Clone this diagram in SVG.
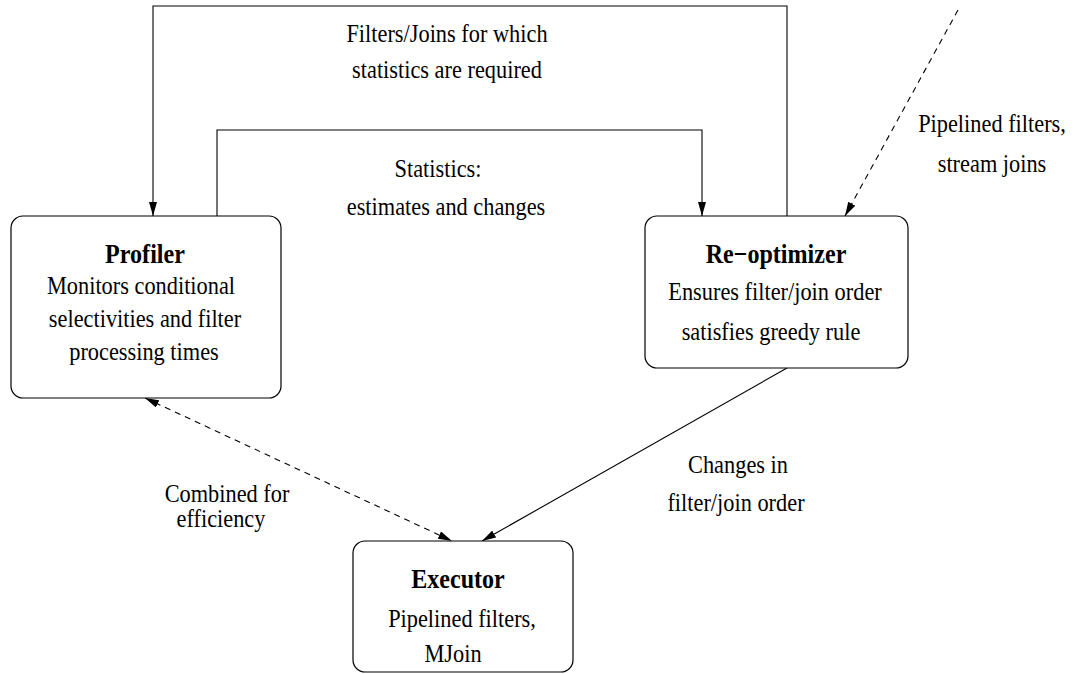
<svg xmlns="http://www.w3.org/2000/svg" width="1080" height="674" viewBox="0 0 1080 674">
  <style>
    .box { fill: #ffffff; stroke: #000000; stroke-width: 1.2; }
    .conn { fill: none; stroke: #000000; stroke-width: 1.1; }
    .dash { stroke-dasharray: 6 5; }
    text { font-family: "Liberation Serif", "Times New Roman", serif; font-size: 26px; fill: #000000; text-anchor: middle; }
    .title { font-size: 28px; font-weight: bold; }
  </style>
  <defs>
    <marker id="arrow" viewBox="0 0 14 8" refX="14" refY="4" markerWidth="14" markerHeight="8" markerUnits="userSpaceOnUse" orient="auto-start-reverse">
      <path d="M0,0 L14,4 L0,8 z" fill="#000000"/>
    </marker>
  </defs>
  <rect width="1080" height="674" fill="#ffffff"/>

  <!-- connectors -->
  <g id="connectors">
    <path class="conn" d="M787,216 V6 H153 V216" marker-end="url(#arrow)"/>
    <path class="conn" d="M217,216 V130 H702 V216" marker-end="url(#arrow)"/>
    <path class="conn dash" d="M958,10 L845,216" marker-end="url(#arrow)"/>
    <path class="conn dash" d="M145,398 L452,541" marker-start="url(#arrow)" marker-end="url(#arrow)"/>
    <path class="conn" d="M787,368 L482,541" marker-end="url(#arrow)"/>
  </g>

  <!-- connector labels -->
  <g id="labels">
    <text transform="translate(447,42) scale(0.86,1)">Filters/Joins for which</text>
    <text transform="translate(447,78) scale(0.86,1)">statistics are required</text>
    <text transform="translate(438,177) scale(0.86,1)">Statistics:</text>
    <text transform="translate(446,215) scale(0.86,1)">estimates and changes</text>
    <text transform="translate(992,132) scale(0.86,1)">Pipelined filters,</text>
    <text transform="translate(992,172) scale(0.86,1)">stream joins</text>
    <text transform="translate(738,473) scale(0.86,1)">Changes in</text>
    <text transform="translate(736,511) scale(0.86,1)">filter/join order</text>
    <text transform="translate(227,502) scale(0.86,1)">Combined for</text>
    <text transform="translate(221,527) scale(0.86,1)">efficiency</text>
  </g>

  <!-- Profiler -->
  <g id="profiler">
    <rect class="box" x="11" y="216" width="270" height="182" rx="12"/>
    <text class="title" transform="translate(145,263) scale(0.86,1)">Profiler</text>
    <text transform="translate(141,294) scale(0.86,1)">Monitors conditional</text>
    <text transform="translate(145,327) scale(0.86,1)">selectivities and filter</text>
    <text transform="translate(144,360) scale(0.86,1)">processing times</text>
  </g>

  <!-- Re-optimizer -->
  <g id="reoptimizer">
    <rect class="box" x="645" y="216" width="263" height="152" rx="12"/>
    <text class="title" transform="translate(776,263) scale(0.86,1)">Re−optimizer</text>
    <text transform="translate(775,300) scale(0.86,1)">Ensures filter/join order</text>
    <text transform="translate(771,340) scale(0.86,1)">satisfies greedy rule</text>
  </g>

  <!-- Executor -->
  <g id="executor">
    <rect class="box" x="353" y="541" width="220" height="131" rx="12"/>
    <text class="title" transform="translate(458,588) scale(0.86,1)">Executor</text>
    <text transform="translate(462,627) scale(0.86,1)">Pipelined filters,</text>
    <text transform="translate(453,662) scale(0.86,1)">MJoin</text>
  </g>
</svg>
